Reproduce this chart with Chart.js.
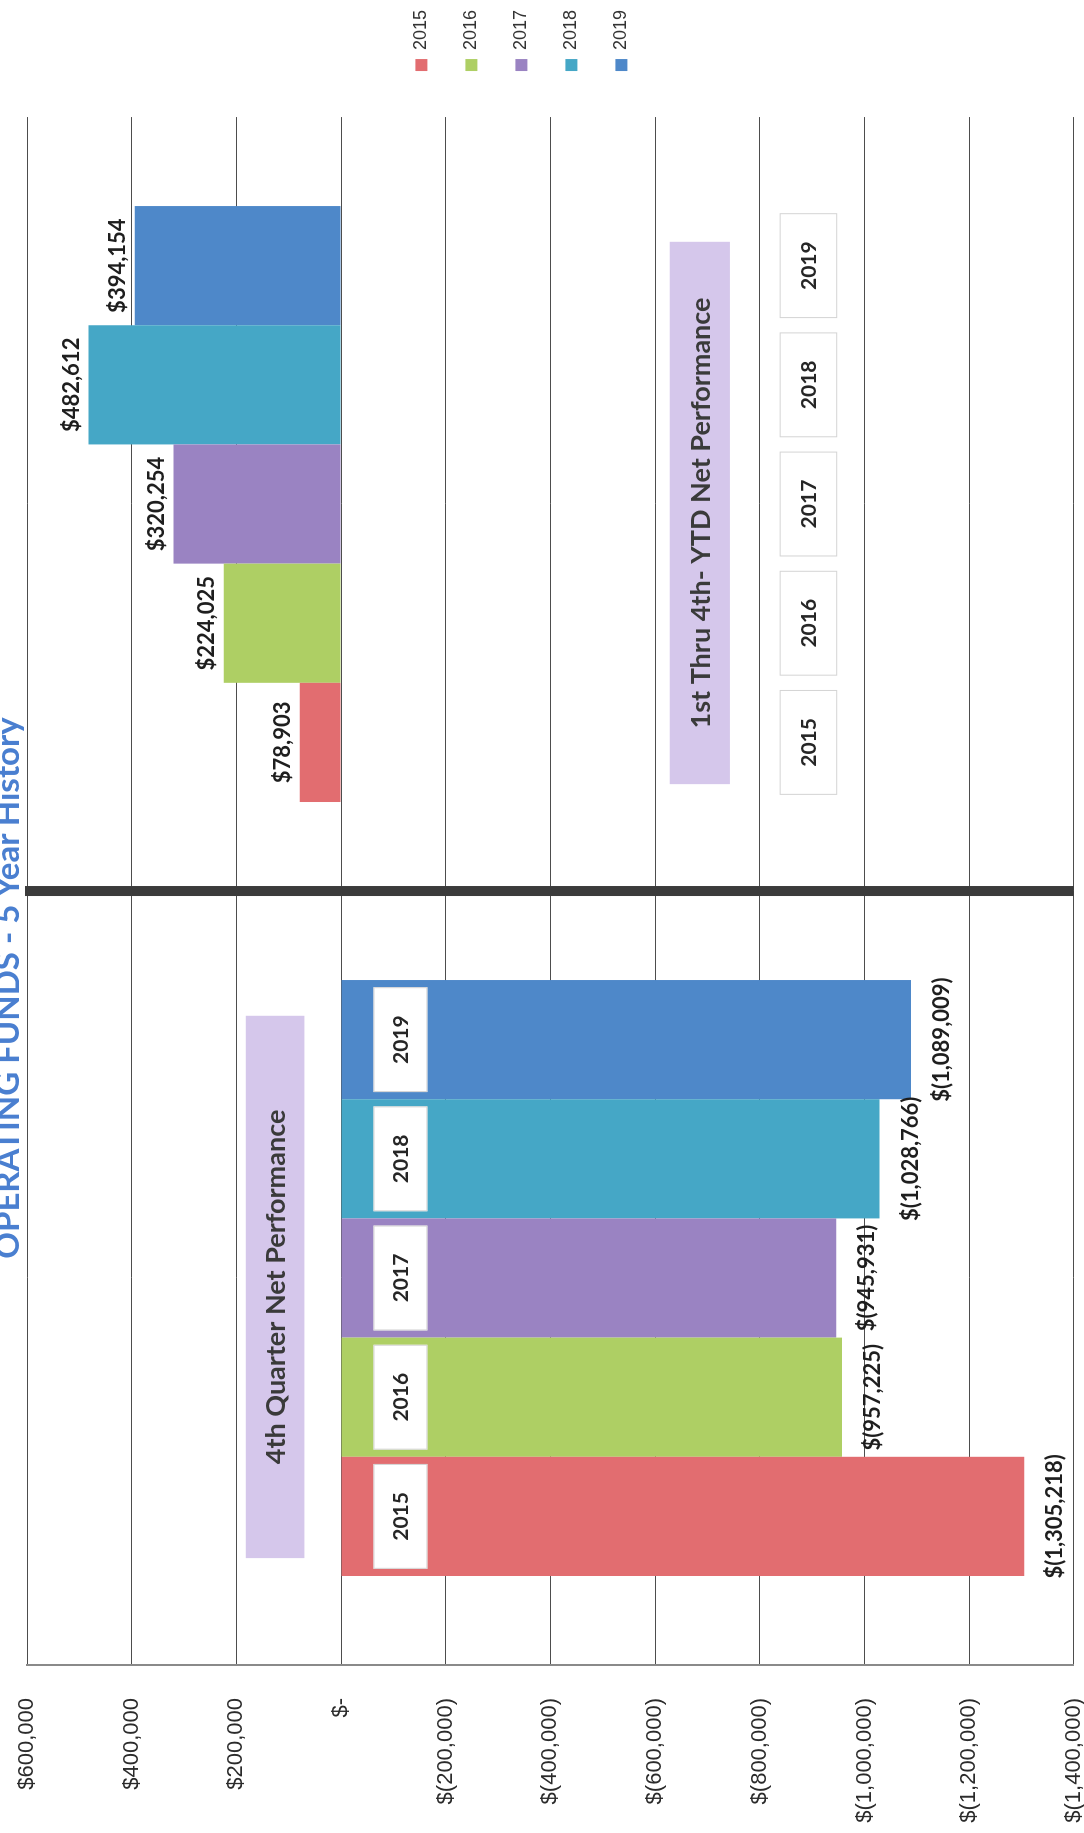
<!DOCTYPE html>
<html>
<head>
<meta charset="utf-8">
<title>Operating Funds - 5 Year History</title>
<script src="https://cdn.jsdelivr.net/npm/chart.js@4.4.1/dist/chart.umd.min.js"></script>
<style>
  html, body { margin: 0; padding: 0; width: 1084px; height: 1833px; overflow: hidden; background: #fff; }
  /* laid out landscape, then turned a quarter turn so it reads bottom-to-top */
  #sheet {
    position: absolute; left: 0; top: 0; width: 1833px; height: 1087px;
    transform-origin: 0 0; transform: translate(0, 1833px) rotate(-90deg);
  }
  #sheet canvas { position: absolute; left: 0; top: 0; }
  #heading {
    position: absolute; left: 0; top: -10px; width: 1690px; text-align: center;
    font: bold 33px Lato, sans-serif; line-height: 33px; color: #4a7fd0; white-space: nowrap;
  }
</style>
</head>
<body>
<div id="sheet">
  <canvas id="funds" width="1833" height="1087"></canvas>
  <div id="heading">OPERATING FUNDS - 5 Year History</div>
</div>
<script>
const periods = ['4th Quarter Net Performance', '1st Thru 4th- YTD Net Performance'];
const years = ['2015', '2016', '2017', '2018', '2019'];
const fourthQuarter = [-1305218, -957225, -945931, -1028766, -1089009];
const yearToDate = [78903, 224025, 320254, 482612, 394154];
const tickValues = [600000, 400000, 200000, 0, -200000, -400000, -600000, -800000, -1000000, -1200000, -1400000];
const yearColors = ['#e26d70', '#aecf64', '#9a83c2', '#45a7c6', '#4e88c9'];

function money(v) {
  if (v === 0) return '$-';
  const s = Math.abs(v).toLocaleString('en-US');
  return v < 0 ? '$(' + s + ')' : '$' + s;
}

// value ranges (in dollars) where the period banners and year tags sit
const bannerSpan = [[182000, 70000], [-628000, -743000]];
const tagSpan = [[-62000, -165000], [-838000, -948000]];

const panelNotes = {
  id: 'panelNotes',
  afterDatasetsDraw(chart) {
    const { ctx, chartArea, scales: { x, y } } = chart;
    const metas = chart.data.datasets.map((d, j) => chart.getDatasetMeta(j));
    ctx.save();

    // heavy rule between the two periods
    const split = (x.getPixelForValue(0) + x.getPixelForValue(1)) / 2;
    ctx.fillStyle = '#3b3b3b';
    ctx.fillRect(split - 5, chartArea.top - 2, 10, chartArea.bottom - chartArea.top + 2);

    periods.forEach((name, i) => {
      const first = metas[0].data[i], last = metas[metas.length - 1].data[i];
      const left = first.x - first.width / 2, right = last.x + last.width / 2;
      // banner sits a touch toward the earlier years
      const cx = (left + right) / 2 - (right - left) * 0.015, w = (right - left) * 0.91;
      const top = y.getPixelForValue(bannerSpan[i][0]);
      const bottom = y.getPixelForValue(bannerSpan[i][1]);
      ctx.fillStyle = '#d5c7eb';
      ctx.fillRect(cx - w / 2, top, w, bottom - top);
      ctx.fillStyle = '#3a3a3a';
      ctx.font = 'bold 27px Lato';
      ctx.textAlign = 'center';
      ctx.textBaseline = 'middle';
      ctx.fillText(name, cx, (top + bottom) / 2 + 1);
    });

    metas.forEach((meta, j) => {
      meta.data.forEach((bar, i) => {
        // year tag
        const tw = bar.width * 0.88;
        const top = y.getPixelForValue(tagSpan[i][0]);
        const bottom = y.getPixelForValue(tagSpan[i][1]);
        ctx.fillStyle = '#ffffff';
        ctx.fillRect(bar.x - tw / 2, top, tw, bottom - top);
        ctx.strokeStyle = '#d4d4d4';
        ctx.lineWidth = 1;
        ctx.strokeRect(bar.x - tw / 2 + 0.5, top + 0.5, tw - 1, bottom - top - 1);
        ctx.fillStyle = '#262626';
        ctx.font = 'bold 21px Lato';
        ctx.textAlign = 'center';
        ctx.textBaseline = 'middle';
        ctx.fillText(years[j], bar.x, (top + bottom) / 2 + 1);

        // value label past the end of the bar
        const v = chart.data.datasets[j].data[i];
        ctx.font = 'bold 22px Lato';
        ctx.fillStyle = '#1e1e1e';
        if (v >= 0) {
          ctx.textBaseline = 'bottom';
          ctx.fillText(money(v), bar.x, bar.y - 6);
        } else {
          ctx.textBaseline = 'top';
          ctx.fillText(money(v), bar.x, bar.y + 20);
        }
      });
    });
    ctx.restore();
  }
};

new Chart(document.getElementById('funds'), {
  type: 'bar',
  data: {
    labels: periods,
    datasets: years.map((yr, j) => ({
      label: yr,
      data: [fourthQuarter[j], yearToDate[j]],
      backgroundColor: yearColors[j],
      borderWidth: 0,
      categoryPercentage: 0.77,
      barPercentage: 1.0
    }))
  },
  plugins: [panelNotes],
  options: {
    responsive: false,
    animation: false,
    layout: { padding: { top: 27 } },
    plugins: {
      tooltip: { enabled: false },
      legend: {
        position: 'right',
        align: 'start',
        title: { display: true, text: '', font: { size: 12 }, padding: { top: 169, bottom: 170 } },
        labels: {
          boxWidth: 12, boxHeight: 12, padding: 32, color: '#333',
          font: { family: 'Liberation Sans', size: 18 }
        }
      }
    },
    scales: {
      x: { display: false },
      y: {
        min: Math.min(...tickValues),
        max: Math.max(...tickValues),
        afterFit(s) { s.width = 168; },
        afterBuildTicks(s) { s.ticks = tickValues.map(v => ({ value: v })); },
        ticks: {
          padding: 0, color: '#2b2b2b',
          font: { family: 'Liberation Sans', size: 22 },
          callback: v => money(v)
        },
        // invisible tick marks keep the labels clear of the axis line
        grid: { color: '#4d4d4d', lineWidth: 1, drawTicks: true, tickLength: 33, tickColor: 'rgba(0,0,0,0)' },
        border: { display: true, color: '#8a8a8a', width: 2 }
      },
      // thin spacer between the plot and the legend
      edge: {
        position: 'right',
        afterFit(s) { s.width = 14; },
        ticks: { display: false },
        grid: { display: false },
        border: { display: false }
      }
    }
  }
});
</script>
</body>
</html>
